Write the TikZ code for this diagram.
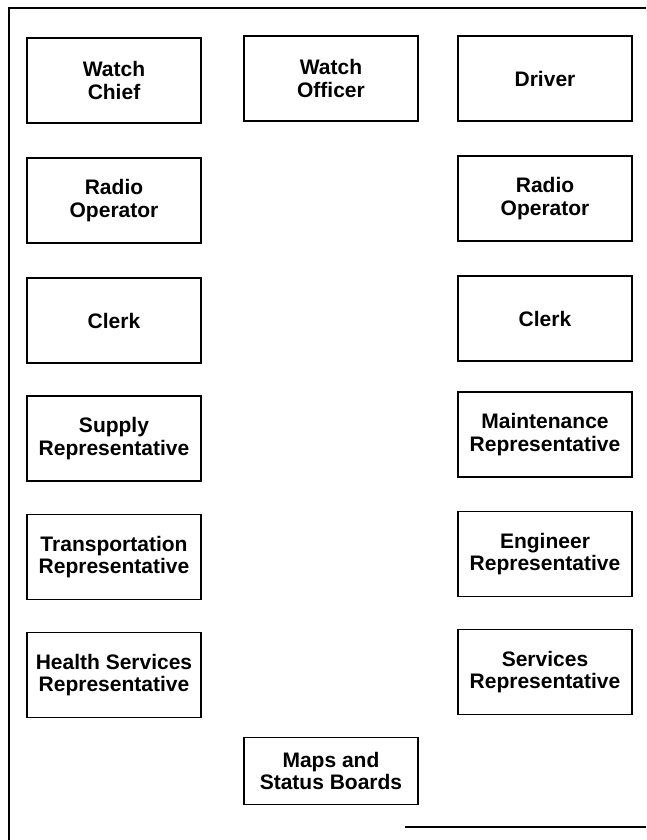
\documentclass[tikz,border=0pt]{standalone}
\usepackage{fontspec}
\setmainfont{Liberation Sans}
\usetikzlibrary{positioning}

\begin{document}
\begin{tikzpicture}[
    x=1pt, y=-1pt,
    post/.style={rectangle, draw, line width=1.4pt, minimum width=174pt,
      minimum height=85pt, align=center, inner sep=2pt,
      font=\fontsize{21}{22.5}\selectfont\bfseries},
    frame/.style={draw, line width=2pt},
  ]
  \useasboundingbox (0,0) rectangle (646,840);

  %% --- Outer frame (open on the right) ---
  \coordinate (ftr) at (646,8.5);
  \coordinate (ftl) at (8.5,8.5);
  \coordinate (fbl) at (8.5,840);
  \coordinate (fbs) at (405,827);
  \coordinate (fbr) at (646,827);
  \draw[frame] (ftr) -- (ftl) -- (fbl);
  \draw[frame] (fbs) -- (fbr);

  %% --- Left column ---
  \node[post] (chief)   at (114,80.5) {Watch\\Chief};
  \node[post] (radioL)  at (114,200.5) {Radio\\Operator};
  \node[post] (clerkL)  at (114,320.5) {Clerk};
  \node[post] (supply)  at (114,438.5) {Supply\\Representative};
  \node[post] (transp)  at (114,557) {Transportation\\Representative};
  \node[post] (health)  at (114,675) {Health Services\\Representative};

  %% --- Middle ---
  \node[post] (officer) at (331,78.5) {Watch\\Officer};
  \node[post, minimum height=67pt] (maps) at (331,771) {Maps and\\Status Boards};

  %% --- Right column ---
  \node[post] (driver)  at (545,78.5) {Driver};
  \node[post] (radioR)  at (545,198.5) {Radio\\Operator};
  \node[post] (clerkR)  at (545,318.5) {Clerk};
  \node[post] (maint)   at (545,434.5) {Maintenance\\Representative};
  \node[post] (engin)   at (545,554) {Engineer\\Representative};
  \node[post] (serv)    at (545,672) {Services\\Representative};
\end{tikzpicture}
\end{document}
